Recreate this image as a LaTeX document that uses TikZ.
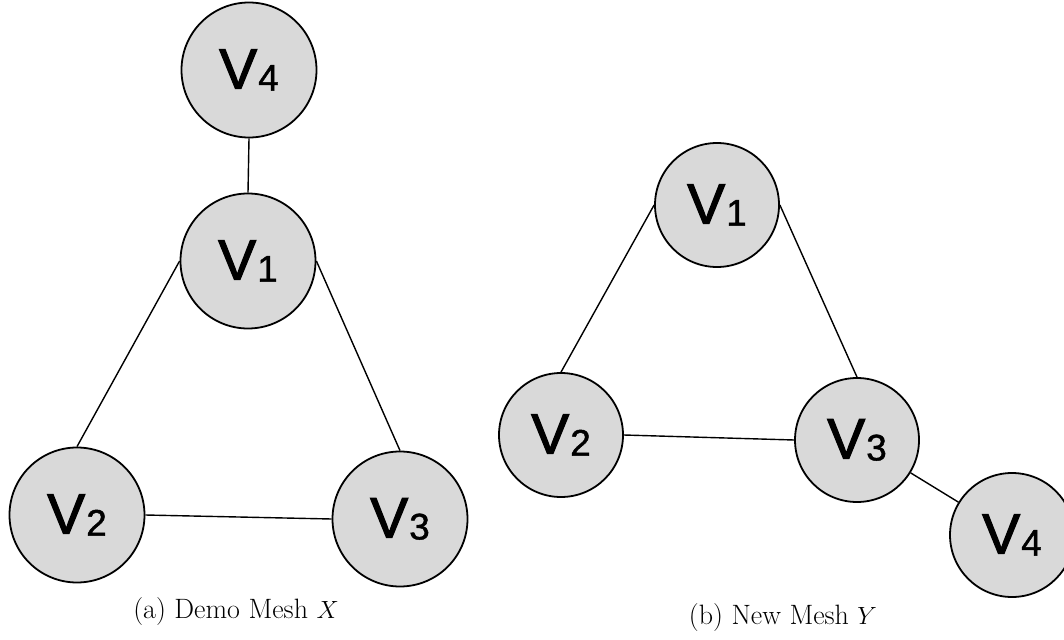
\documentclass[tikz,border=0pt]{standalone}
\usepackage{fontspec}
\newfontfamily\vfont[FakeBold=2]{Liberation Sans}
\newfontfamily\dfont[FakeBold=1.2]{Liberation Sans}
\newcommand{\vlab}[1]{{\vfont\fontsize{57}{57}\selectfont V\kern1pt\raisebox{-2pt}{\dfont\fontsize{37}{37}\selectfont #1}}}
\tikzset{
  vert/.style={circle, draw=black, line width=1.8pt, fill=black!15, inner sep=0pt},
  big/.style={vert, minimum size=135pt},
  small/.style={vert, minimum size=124pt},
  edge/.style={line width=1.4pt},
  captext/.style={font=\fontsize{28}{28}\selectfont, inner sep=0pt}
}
\begin{document}
\begin{tikzpicture}[x=1pt,y=-1pt]
\useasboundingbox (0,0) rectangle (1064,639);
% left graph
\node[big] (a4) at (249,70) {\vlab{4}};
\node[big] (a1) at (248,261) {\vlab{1}};
\node[big] (a2) at (77,515) {\vlab{2}};
\node[big] (a3) at (400,519) {\vlab{3}};
\draw[edge] (a4.south) -- (a1.north);
\draw[edge] (a1.west) -- (a2.north);
\draw[edge] (a1.east) -- (a3.north);
\draw[edge] (a2.east) -- (a3.west);
% right graph
\node[small] (b1) at (717,205) {\vlab{1}};
\node[small] (b2) at (561,435) {\vlab{2}};
\node[small] (b3) at (857,440) {\vlab{3}};
\node[small] (b4) at (1012,535) {\vlab{4}};
\draw[edge] (b1.west) -- (b2.north);
\draw[edge] (b1.east) -- (b3.north);
\draw[edge] (b2.east) -- (b3.west);
\draw[edge] (b3) -- (b4);
% captions
\node[captext] (ca) at (236,612) {(a) Demo Mesh $X$};
\node[captext] (cb) at (783,618) {(b) New Mesh $Y$};
\end{tikzpicture}
\end{document}
